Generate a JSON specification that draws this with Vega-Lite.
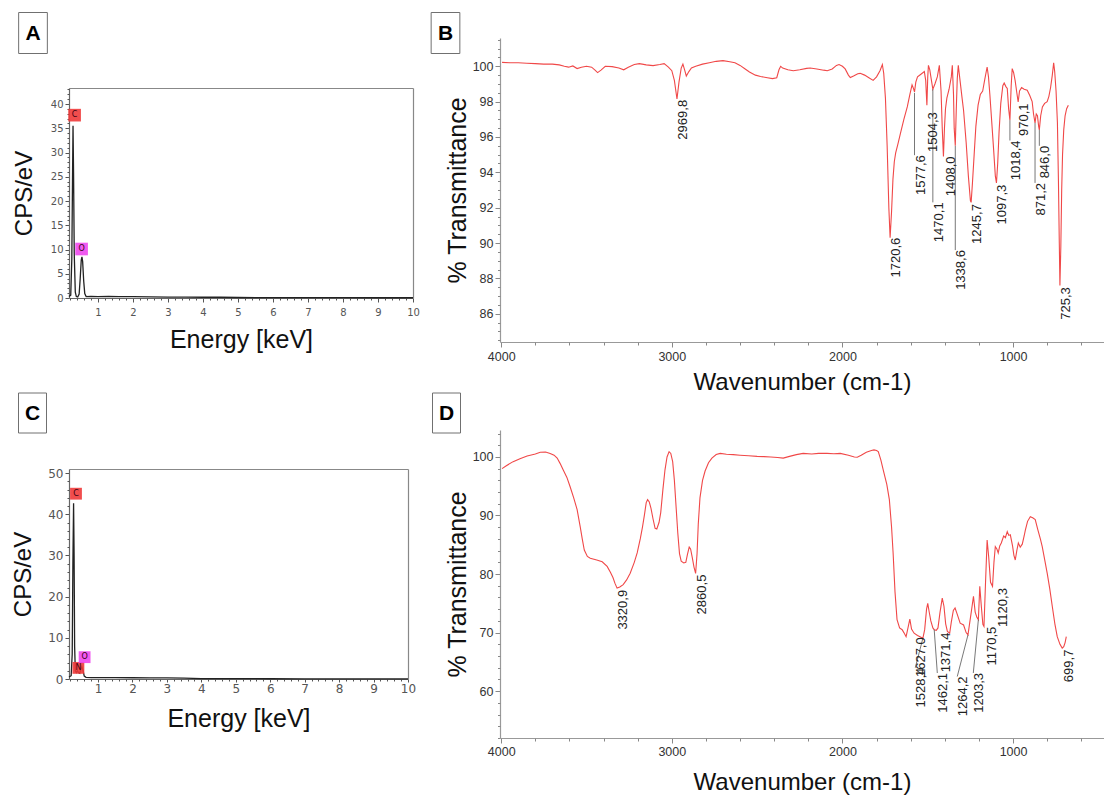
{
  "$schema": "https://vega.github.io/schema/vega-lite/v6.json",
  "padding": 0,
  "background": "white",
  "columns": 4,
  "spacing": 0,
  "bounds": "flush",
  "align": "each",
  "datasets": {
    "eds_a": [
      {"kev":0.17,"cps":0.3},{"kev":0.22,"cps":0.6},{"kev":0.25,"cps":8},{"kev":0.27,"cps":24},{"kev":0.285,"cps":35.5},{"kev":0.3,"cps":26},{"kev":0.32,"cps":9},{"kev":0.35,"cps":1.2},{"kev":0.38,"cps":0.3},{"kev":0.42,"cps":0.2},{"kev":0.46,"cps":0.8},{"kev":0.49,"cps":4},{"kev":0.52,"cps":7.8},{"kev":0.54,"cps":8.5},{"kev":0.56,"cps":7.5},{"kev":0.59,"cps":3.5},{"kev":0.62,"cps":0.9},{"kev":0.66,"cps":0.3},{"kev":0.8,"cps":0.35},{"kev":1.0,"cps":0.3},{"kev":1.3,"cps":0.35},{"kev":1.6,"cps":0.3},{"kev":2.0,"cps":0.3},{"kev":2.5,"cps":0.25},{"kev":3.0,"cps":0.2},{"kev":3.5,"cps":0.2},{"kev":4.0,"cps":0.15},{"kev":4.5,"cps":0.15},{"kev":5.0,"cps":0.1},{"kev":6.0,"cps":0.08},{"kev":7.0,"cps":0.07},{"kev":8.0,"cps":0.06},{"kev":9.0,"cps":0.05},{"kev":10.0,"cps":0.05}
    ],
    "eds_c": [
      {"kev":0.157,"cps":0.5},{"kev":0.22,"cps":0.8},{"kev":0.25,"cps":6},{"kev":0.27,"cps":28},{"kev":0.29,"cps":42.7},{"kev":0.305,"cps":30},{"kev":0.32,"cps":8},{"kev":0.34,"cps":2},{"kev":0.37,"cps":1.6},{"kev":0.4,"cps":2},{"kev":0.43,"cps":1.6},{"kev":0.47,"cps":1.4},{"kev":0.5,"cps":2.4},{"kev":0.53,"cps":3},{"kev":0.56,"cps":2.2},{"kev":0.6,"cps":0.7},{"kev":0.65,"cps":0.4},{"kev":0.8,"cps":0.35},{"kev":1.0,"cps":0.35},{"kev":1.5,"cps":0.35},{"kev":2.0,"cps":0.3},{"kev":2.5,"cps":0.25},{"kev":3.0,"cps":0.25},{"kev":3.5,"cps":0.2},{"kev":4.0,"cps":0.1},{"kev":5.0,"cps":0.08},{"kev":6.0,"cps":0.06},{"kev":7.0,"cps":0.05},{"kev":8.0,"cps":0.05},{"kev":9.0,"cps":0.05},{"kev":10.0,"cps":0.05}
    ],
    "mk_a": [
      {"el":"C","kev":0.33,"cps":37.7},{"el":"O","kev":0.53,"cps":10.1}
    ],
    "mk_c": [
      {"el":"C","kev":0.36,"cps":45.0},{"el":"N","kev":0.43,"cps":2.7},{"el":"O","kev":0.61,"cps":5.3}
    ],
    "ir_b": [
      {"wn":3995,"t":100.22},{"wn":3950,"t":100.2},{"wn":3900,"t":100.2},{"wn":3850,"t":100.17},{"wn":3800,"t":100.15},{"wn":3750,"t":100.12},{"wn":3700,"t":100.12},{"wn":3660,"t":100.08},{"wn":3630,"t":100.0},{"wn":3605,"t":99.95},{"wn":3580,"t":100.02},{"wn":3555,"t":99.87},{"wn":3530,"t":99.95},{"wn":3500,"t":100.0},{"wn":3470,"t":99.95},{"wn":3450,"t":99.78},{"wn":3435,"t":99.64},{"wn":3415,"t":99.78},{"wn":3390,"t":100.0},{"wn":3350,"t":99.98},{"wn":3310,"t":99.9},{"wn":3282,"t":99.8},{"wn":3255,"t":99.95},{"wn":3220,"t":100.1},{"wn":3190,"t":100.15},{"wn":3150,"t":100.08},{"wn":3110,"t":100.04},{"wn":3070,"t":100.1},{"wn":3045,"t":100.15},{"wn":3020,"t":99.95},{"wn":3000,"t":99.75},{"wn":2985,"t":99.2},{"wn":2969.8,"t":98.15},{"wn":2958,"t":99.1},{"wn":2945,"t":99.9},{"wn":2935,"t":100.12},{"wn":2925,"t":99.8},{"wn":2915,"t":99.45},{"wn":2900,"t":99.7},{"wn":2885,"t":99.9},{"wn":2860,"t":100.0},{"wn":2820,"t":100.12},{"wn":2780,"t":100.2},{"wn":2740,"t":100.28},{"wn":2700,"t":100.32},{"wn":2660,"t":100.26},{"wn":2630,"t":100.2},{"wn":2600,"t":100.05},{"wn":2570,"t":99.85},{"wn":2545,"t":99.68},{"wn":2510,"t":99.5},{"wn":2480,"t":99.42},{"wn":2440,"t":99.35},{"wn":2410,"t":99.3},{"wn":2385,"t":99.35},{"wn":2372,"t":99.8},{"wn":2362,"t":100.0},{"wn":2350,"t":99.9},{"wn":2320,"t":99.8},{"wn":2288,"t":99.75},{"wn":2250,"t":99.8},{"wn":2210,"t":99.88},{"wn":2189,"t":99.9},{"wn":2150,"t":99.85},{"wn":2110,"t":99.78},{"wn":2089,"t":99.75},{"wn":2060,"t":99.85},{"wn":2035,"t":100.05},{"wn":2020,"t":100.1},{"wn":2000,"t":100.0},{"wn":1984,"t":99.85},{"wn":1965,"t":99.5},{"wn":1954,"t":99.36},{"wn":1935,"t":99.45},{"wn":1910,"t":99.58},{"wn":1896,"t":99.6},{"wn":1870,"t":99.5},{"wn":1845,"t":99.35},{"wn":1820,"t":99.2},{"wn":1800,"t":99.4},{"wn":1780,"t":99.75},{"wn":1766,"t":100.1},{"wn":1758,"t":99.6},{"wn":1748,"t":98.2},{"wn":1738,"t":95.5},{"wn":1728,"t":92.0},{"wn":1720.6,"t":90.3},{"wn":1712,"t":91.8},{"wn":1704,"t":93.6},{"wn":1696,"t":94.6},{"wn":1688,"t":95.1},{"wn":1675,"t":95.6},{"wn":1660,"t":96.2},{"wn":1640,"t":97.0},{"wn":1620,"t":97.7},{"wn":1605,"t":98.4},{"wn":1592,"t":98.95},{"wn":1584,"t":98.75},{"wn":1577.6,"t":98.55},{"wn":1570,"t":99.1},{"wn":1560,"t":99.4},{"wn":1540,"t":99.55},{"wn":1520,"t":99.7},{"wn":1512,"t":99.2},{"wn":1505,"t":97.8},{"wn":1500,"t":99.4},{"wn":1496,"t":100.05},{"wn":1488,"t":99.8},{"wn":1480,"t":99.3},{"wn":1470.1,"t":98.7},{"wn":1458,"t":99.0},{"wn":1444,"t":99.4},{"wn":1432,"t":100.05},{"wn":1422,"t":98.6},{"wn":1415,"t":96.5},{"wn":1408,"t":94.9},{"wn":1402,"t":96.5},{"wn":1396,"t":97.6},{"wn":1388,"t":98.2},{"wn":1375,"t":98.7},{"wn":1362,"t":99.4},{"wn":1356,"t":100.05},{"wn":1349,"t":98.4},{"wn":1345,"t":96.5},{"wn":1338.6,"t":95.5},{"wn":1333,"t":97.5},{"wn":1327,"t":99.3},{"wn":1321,"t":100.05},{"wn":1312,"t":99.3},{"wn":1300,"t":98.3},{"wn":1290,"t":97.5},{"wn":1275,"t":95.7},{"wn":1262,"t":93.8},{"wn":1250,"t":92.4},{"wn":1245.7,"t":92.3},{"wn":1238,"t":93.4},{"wn":1228,"t":95.0},{"wn":1218,"t":96.6},{"wn":1205,"t":97.8},{"wn":1192,"t":98.4},{"wn":1178,"t":98.6},{"wn":1165,"t":99.3},{"wn":1152,"t":99.96},{"wn":1144,"t":99.4},{"wn":1136,"t":98.4},{"wn":1126,"t":97.0},{"wn":1114,"t":95.3},{"wn":1104,"t":93.8},{"wn":1097.3,"t":93.4},{"wn":1090,"t":94.5},{"wn":1082,"t":96.3},{"wn":1072,"t":97.9},{"wn":1060,"t":98.9},{"wn":1052,"t":99.05},{"wn":1042,"t":98.85},{"wn":1034,"t":98.75},{"wn":1026,"t":97.6},{"wn":1018.4,"t":96.95},{"wn":1011,"t":98.9},{"wn":1005,"t":99.87},{"wn":997,"t":99.65},{"wn":988,"t":99.2},{"wn":978,"t":98.5},{"wn":970.1,"t":97.98},{"wn":962,"t":98.6},{"wn":950,"t":98.8},{"wn":935,"t":98.7},{"wn":917,"t":98.64},{"wn":902,"t":98.35},{"wn":888,"t":98.0},{"wn":880,"t":97.3},{"wn":871.2,"t":96.8},{"wn":864,"t":97.3},{"wn":857,"t":97.2},{"wn":850,"t":96.6},{"wn":846,"t":96.4},{"wn":838,"t":97.2},{"wn":828,"t":97.7},{"wn":815,"t":97.9},{"wn":800,"t":98.0},{"wn":790,"t":98.3},{"wn":780,"t":98.8},{"wn":770,"t":99.5},{"wn":762,"t":100.2},{"wn":756,"t":99.7},{"wn":748,"t":98.6},{"wn":740,"t":96.8},{"wn":734,"t":93.5},{"wn":729,"t":90.0},{"wn":725.3,"t":87.6},{"wn":720,"t":89.8},{"wn":715,"t":93.0},{"wn":710,"t":95.0},{"wn":703,"t":96.4},{"wn":695,"t":97.2},{"wn":686,"t":97.6},{"wn":676,"t":97.8}
    ],
    "ir_d": [
      {"wn":3995,"t":98.0},{"wn":3970,"t":98.5},{"wn":3930,"t":99.2},{"wn":3890,"t":99.7},{"wn":3848,"t":100.17},{"wn":3800,"t":100.5},{"wn":3771,"t":100.8},{"wn":3740,"t":100.85},{"wn":3713,"t":100.6},{"wn":3690,"t":100.3},{"wn":3672,"t":99.8},{"wn":3655,"t":98.9},{"wn":3637,"t":97.8},{"wn":3615,"t":96.5},{"wn":3596,"t":94.9},{"wn":3575,"t":93.0},{"wn":3555,"t":91.0},{"wn":3537,"t":88.1},{"wn":3525,"t":86.0},{"wn":3513,"t":84.1},{"wn":3495,"t":83.0},{"wn":3478,"t":82.7},{"wn":3440,"t":82.4},{"wn":3408,"t":82.1},{"wn":3379,"t":81.3},{"wn":3360,"t":80.3},{"wn":3345,"t":79.4},{"wn":3333,"t":78.4},{"wn":3320.9,"t":77.6},{"wn":3305,"t":77.8},{"wn":3285,"t":78.2},{"wn":3265,"t":79.0},{"wn":3244,"t":80.15},{"wn":3220,"t":82.0},{"wn":3203,"t":83.6},{"wn":3185,"t":86.0},{"wn":3172,"t":88.0},{"wn":3160,"t":90.2},{"wn":3150,"t":92.2},{"wn":3142,"t":92.7},{"wn":3132,"t":92.3},{"wn":3122,"t":91.2},{"wn":3110,"t":89.4},{"wn":3098,"t":87.8},{"wn":3088,"t":87.7},{"wn":3075,"t":88.8},{"wn":3065,"t":90.5},{"wn":3052,"t":94.5},{"wn":3040,"t":97.8},{"wn":3028,"t":100.0},{"wn":3016,"t":100.9},{"wn":3006,"t":100.6},{"wn":2995,"t":99.2},{"wn":2985,"t":96.0},{"wn":2975,"t":91.5},{"wn":2965,"t":87.0},{"wn":2955,"t":83.5},{"wn":2945,"t":82.2},{"wn":2930,"t":81.9},{"wn":2918,"t":82.0},{"wn":2908,"t":83.4},{"wn":2898,"t":84.6},{"wn":2890,"t":84.3},{"wn":2880,"t":82.8},{"wn":2870,"t":81.2},{"wn":2860.5,"t":80.1},{"wn":2852,"t":83.5},{"wn":2845,"t":88.5},{"wn":2835,"t":93.0},{"wn":2820,"t":96.0},{"wn":2805,"t":97.6},{"wn":2785,"t":99.0},{"wn":2765,"t":99.8},{"wn":2740,"t":100.4},{"wn":2716,"t":100.6},{"wn":2680,"t":100.45},{"wn":2640,"t":100.4},{"wn":2600,"t":100.3},{"wn":2550,"t":100.2},{"wn":2500,"t":100.1},{"wn":2460,"t":100.05},{"wn":2420,"t":100.0},{"wn":2380,"t":99.9},{"wn":2347,"t":99.8},{"wn":2310,"t":100.1},{"wn":2270,"t":100.4},{"wn":2230,"t":100.6},{"wn":2180,"t":100.5},{"wn":2140,"t":100.6},{"wn":2090,"t":100.6},{"wn":2050,"t":100.55},{"wn":2013,"t":100.6},{"wn":1965,"t":100.3},{"wn":1930,"t":100.0},{"wn":1913,"t":99.95},{"wn":1890,"t":100.3},{"wn":1860,"t":100.8},{"wn":1830,"t":101.1},{"wn":1815,"t":101.2},{"wn":1800,"t":101.1},{"wn":1790,"t":100.9},{"wn":1775,"t":99.5},{"wn":1761,"t":97.8},{"wn":1740,"t":95.3},{"wn":1725,"t":92.7},{"wn":1712,"t":88.0},{"wn":1703,"t":83.6},{"wn":1692,"t":77.0},{"wn":1680,"t":72.2},{"wn":1665,"t":70.8},{"wn":1650,"t":70.5},{"wn":1640,"t":70.0},{"wn":1627,"t":69.3},{"wn":1618,"t":70.5},{"wn":1605,"t":72.3},{"wn":1595,"t":70.6},{"wn":1580,"t":69.9},{"wn":1560,"t":69.5},{"wn":1545,"t":69.3},{"wn":1528.4,"t":69.05},{"wn":1518,"t":70.5},{"wn":1507,"t":74.0},{"wn":1500,"t":75.0},{"wn":1492,"t":73.6},{"wn":1482,"t":72.0},{"wn":1470,"t":70.8},{"wn":1462.1,"t":70.5},{"wn":1450,"t":70.4},{"wn":1440,"t":70.8},{"wn":1428,"t":73.5},{"wn":1415,"t":75.9},{"wn":1405,"t":74.5},{"wn":1395,"t":71.5},{"wn":1385,"t":70.2},{"wn":1371.4,"t":69.9},{"wn":1362,"t":71.8},{"wn":1350,"t":73.8},{"wn":1340,"t":74.2},{"wn":1328,"t":73.2},{"wn":1310,"t":71.6},{"wn":1290,"t":71.3},{"wn":1275,"t":70.0},{"wn":1264.2,"t":69.6},{"wn":1255,"t":71.5},{"wn":1245,"t":73.5},{"wn":1232,"t":76.2},{"wn":1222,"t":73.5},{"wn":1212,"t":72.6},{"wn":1203.3,"t":72.2},{"wn":1195,"t":77.9},{"wn":1186,"t":74.5},{"wn":1177,"t":71.4},{"wn":1170.5,"t":71.05},{"wn":1162,"t":78.0},{"wn":1152,"t":85.8},{"wn":1143,"t":83.0},{"wn":1132,"t":78.6},{"wn":1120.3,"t":77.9},{"wn":1112,"t":82.0},{"wn":1104,"t":84.7},{"wn":1095,"t":84.3},{"wn":1087,"t":83.6},{"wn":1078,"t":84.8},{"wn":1069,"t":85.3},{"wn":1055,"t":86.5},{"wn":1045,"t":86.2},{"wn":1034,"t":87.25},{"wn":1025,"t":86.6},{"wn":1016,"t":86.7},{"wn":1003,"t":84.8},{"wn":995,"t":83.2},{"wn":987,"t":82.4},{"wn":978,"t":84.0},{"wn":969,"t":85.3},{"wn":958,"t":84.6},{"wn":946,"t":85.1},{"wn":935,"t":86.5},{"wn":928,"t":87.5},{"wn":915,"t":89.0},{"wn":899,"t":89.8},{"wn":885,"t":89.6},{"wn":870,"t":89.3},{"wn":855,"t":87.6},{"wn":840,"t":86.0},{"wn":829,"t":84.7},{"wn":815,"t":82.5},{"wn":800,"t":80.15},{"wn":785,"t":77.5},{"wn":770,"t":74.45},{"wn":755,"t":71.5},{"wn":741,"t":69.3},{"wn":725,"t":68.0},{"wn":712,"t":67.35},{"wn":703,"t":67.6},{"wn":695,"t":68.3},{"wn":688,"t":69.3}
    ],
    "ann_b": [
      {"label":"2969,8","wn":2969.8,"ty":null,"lx":2969.8,"ly":98.1},
      {"label":"1720,6","wn":1720.6,"ty":null,"lx":1720.6,"ly":90.3},
      {"label":"1577,6","wn":1577.6,"ty":98.5,"lx":1577.6,"ly":94.97},
      {"label":"1504,3","wn":1504.3,"ty":null,"lx":1504.3,"ly":97.4},
      {"label":"1470,1","wn":1470.1,"ty":98.7,"lx":1470.1,"ly":92.3},
      {"label":"1408,0","wn":1408.0,"ty":null,"lx":1400,"ly":94.9},
      {"label":"1338,6","wn":1338.6,"ty":95.5,"lx":1338.6,"ly":89.6},
      {"label":"1245,7","wn":1245.7,"ty":null,"lx":1245.7,"ly":92.2},
      {"label":"1097,3","wn":1097.3,"ty":null,"lx":1097.3,"ly":93.3},
      {"label":"1018,4","wn":1018.4,"ty":96.95,"lx":1018.4,"ly":95.8},
      {"label":"970,1","wn":970.1,"ty":null,"lx":970.1,"ly":97.9},
      {"label":"871,2","wn":871.2,"ty":96.8,"lx":871.2,"ly":93.4},
      {"label":"846,0","wn":846.0,"ty":96.4,"lx":846.0,"ly":95.5},
      {"label":"725,3","wn":725.3,"ty":null,"lx":725.3,"ly":87.5}
    ],
    "ann_d": [
      {"label":"3320,9","wn":3320.9,"ty":null,"lx":3320.9,"ly":77.3},
      {"label":"2860,5","wn":2860.5,"ty":null,"lx":2860.5,"ly":79.9},
      {"label":"1627,0","wn":1627.0,"ty":null,"lx":1575,"ly":69.2},
      {"label":"1528,4","wn":1528.4,"ty":69.05,"lx":1573,"ly":64.0},
      {"label":"1462,1","wn":1462.1,"ty":70.5,"lx":1444,"ly":63.1},
      {"label":"1371,4","wn":1371.4,"ty":null,"lx":1427,"ly":70.0},
      {"label":"1264,2","wn":1264.2,"ty":69.6,"lx":1327,"ly":62.5},
      {"label":"1203,3","wn":1203.3,"ty":72.2,"lx":1233,"ly":63.1},
      {"label":"1170,5","wn":1170.5,"ty":null,"lx":1160,"ly":71.0},
      {"label":"1120,3","wn":1120.3,"ty":null,"lx":1095,"ly":77.6},
      {"label":"699,7","wn":699.7,"ty":null,"lx":705,"ly":67.1}
    ]
  },
  "concat": [
    {
      "width": 69, "height": 66,
      "data": {"values": [{"panel": "A"}]},
      "layer": [
        {"mark": {"type": "point", "shape": "M-0.7,-1L0.7,-1L0.7,1L-0.7,1Z", "size": 1681, "filled": false, "color": "#707070", "strokeWidth": 1, "opacity": 1, "xOffset": -1.5}, "encoding": {}},
        {"mark": {"type": "text", "font": "Liberation Sans", "fontSize": 21, "fontWeight": "bold", "color": "#000", "xOffset": -1.5, "yOffset": 1}, "encoding": {"text": {"field": "panel"}}}
      ]
    },
    {
      "width": 344, "height": 298,
      "resolve": {"axis": {"x": "independent", "y": "independent"}},
      "layer": [
        {
          "data": {"name": "eds_a"},
          "mark": {"type": "line", "color": "#222", "strokeWidth": 1.3},
          "encoding": {
            "x": {"field": "kev", "type": "quantitative", "scale": {"domain": [0.17, 10], "nice": false, "zero": false},
              "axis": {"title": "Energy [keV]", "titleFontSize": 25, "titleColor": "#111", "titlePadding": 10,
                "values": [1,2,3,4,5,6,7,8,9,10], "format": "d",
                "labelFont": "DejaVu Sans", "labelFontSize": 10, "labelColor": "#555", "labelPadding": 5,
                "tickColor": "#555", "tickWidth": 1, "tickSize": 4,
                "domainColor": "#666", "domainWidth": 1.2}},
            "y": {"field": "cps", "type": "quantitative", "scale": {"domain": [0, 43.3], "range": [298, 88], "nice": false, "zero": false},
              "axis": {"title": "CPS/eV", "titleFontSize": 24, "titleColor": "#111", "titlePadding": 14,
                "values": [0,5,10,15,20,25,30,35,40], "format": "d",
                "labelFont": "DejaVu Sans", "labelFontSize": 10, "labelColor": "#555", "labelPadding": 2,
                "tickColor": "#555", "tickWidth": 1, "tickSize": 4,
                "domainColor": "#666", "domainWidth": 1.2}}
          }
        },
        {
          "data": {"name": "eds_a"},
          "mark": {"type": "line", "strokeOpacity": 0},
          "encoding": {
            "x": {"field": "kev", "type": "quantitative", "scale": {"domain": [0.17, 10], "nice": false, "zero": false},
              "axis": {"orient": "top", "offset": -88, "ticks": false, "labels": false, "title": null, "domainColor": "#888", "domainWidth": 1.2}},
            "y": {"field": "cps", "type": "quantitative", "scale": {"domain": [0, 43.3], "range": [298, 88], "nice": false, "zero": false},
              "axis": {"orient": "right", "ticks": false, "labels": false, "title": null, "domainColor": "#888", "domainWidth": 1.2}}
          }
        },
        {
          "data": {"name": "eds_a"},
          "mark": {"type": "line", "strokeOpacity": 0},
          "encoding": {
            "x": {"field": "kev", "type": "quantitative", "scale": {"domain": [0.17, 10], "nice": false, "zero": false},
              "axis": {"orient": "bottom", "domain": false, "labels": false, "title": null, "tickSize": 2, "tickColor": "#555", "tickWidth": 1,
                "values": [0.2,0.4,0.6,0.8,1.2,1.4,1.6,1.8,2.2,2.4,2.6,2.8,3.2,3.4,3.6,3.8,4.2,4.4,4.6,4.8,5.2,5.4,5.6,5.8,6.2,6.4,6.6,6.8,7.2,7.4,7.6,7.8,8.2,8.4,8.6,8.8,9.2,9.4,9.6,9.8]}},
            "y": {"field": "cps", "type": "quantitative", "scale": {"domain": [0, 43.3], "range": [298, 88], "nice": false, "zero": false},
              "axis": {"orient": "left", "domain": false, "labels": false, "title": null, "tickSize": 2, "tickColor": "#555", "tickWidth": 1,
                "values": [1,2,3,4,6,7,8,9,11,12,13,14,16,17,18,19,21,22,23,24,26,27,28,29,31,32,33,34,36,37,38,39,41,42,43]}}
          }
        },
        {
          "data": {"name": "mk_a"},
          "mark": {"type": "point", "shape": "square", "size": 160, "filled": true, "opacity": 0.9},
          "encoding": {
            "x": {"field": "kev", "type": "quantitative", "scale": {"domain": [0.17, 10], "nice": false, "zero": false}, "axis": null},
            "y": {"field": "cps", "type": "quantitative", "scale": {"domain": [0, 43.3], "range": [298, 88], "nice": false, "zero": false}, "axis": null},
            "color": {"field": "el", "type": "nominal", "scale": {"domain": ["C", "N", "O"], "range": ["#f03a3a", "#f03a3a", "#ee48ee"]}, "legend": null}
          }
        },
        {
          "data": {"name": "mk_a"},
          "mark": {"type": "text", "fontSize": 8, "font": "DejaVu Sans", "color": "#3a0010"},
          "encoding": {
            "x": {"field": "kev", "type": "quantitative", "scale": {"domain": [0.17, 10], "nice": false, "zero": false}, "axis": null},
            "y": {"field": "cps", "type": "quantitative", "scale": {"domain": [0, 43.3], "range": [298, 88], "nice": false, "zero": false}, "axis": null},
            "text": {"field": "el"}
          }
        }
      ]
    },
    {
      "width": 87, "height": 66,
      "data": {"values": [{"panel": "B"}]},
      "layer": [
        {"mark": {"type": "point", "shape": "M-0.7,-1L0.7,-1L0.7,1L-0.7,1Z", "size": 1681, "filled": false, "color": "#707070", "strokeWidth": 1, "opacity": 1, "xOffset": -11}, "encoding": {}},
        {"mark": {"type": "text", "font": "Liberation Sans", "fontSize": 21, "fontWeight": "bold", "color": "#000", "xOffset": -11, "yOffset": 1}, "encoding": {"text": {"field": "panel"}}}
      ]
    },
    {
      "width": 604, "height": 342,
      "resolve": {"axis": {"x": "independent", "y": "independent"}},
      "layer": [
        {
          "data": {"name": "ir_b"},
          "mark": {"type": "line", "color": "#f04848", "strokeWidth": 1.1},
          "encoding": {
            "x": {"field": "wn", "type": "quantitative", "scale": {"domain": [4007, 467], "nice": false, "zero": false},
              "axis": {"title": "Wavenumber (cm-1)", "titleFontSize": 24, "titleColor": "#111", "titlePadding": 8,
                "values": [4000,3000,2000,1000], "format": "d",
                "labelFontSize": 12.5, "labelColor": "#333", "labelPadding": 3,
                "tickColor": "#888", "tickWidth": 1, "tickSize": 5,
                "domainColor": "#999", "domainWidth": 1.2}},
            "y": {"field": "t", "type": "quantitative", "scale": {"domain": [84.4, 101.6], "range": [342, 38], "nice": false, "zero": false},
              "axis": {"title": "% Transmittance", "titleFontSize": 25, "titleColor": "#111", "titlePadding": 2,
                "values": [86,88,90,92,94,96,98,100], "format": "d",
                "labelFontSize": 12.5, "labelColor": "#333", "labelPadding": 2,
                "tickColor": "#888", "tickWidth": 1, "tickSize": 5,
                "domainColor": "#999", "domainWidth": 1.2}}
          }
        },
        {
          "data": {"name": "ir_b"},
          "mark": {"type": "line", "strokeOpacity": 0},
          "encoding": {
            "x": {"field": "wn", "type": "quantitative", "scale": {"domain": [4007, 467], "nice": false, "zero": false},
              "axis": {"orient": "bottom", "domain": false, "labels": false, "title": null, "tickSize": 3, "tickColor": "#888", "tickWidth": 1,
                "values": [3800,3600,3400,3200,2800,2600,2400,2200,1800,1600,1400,1200,800,600]}},
            "y": {"field": "t", "type": "quantitative", "scale": {"domain": [84.4, 101.6], "range": [342, 38], "nice": false, "zero": false},
              "axis": {"orient": "left", "domain": false, "labels": false, "title": null, "tickSize": 2.5, "tickColor": "#888", "tickWidth": 1,
                "values": [84.5,85,85.5,86.5,87,87.5,88.5,89,89.5,90.5,91,91.5,92.5,93,93.5,94.5,95,95.5,96.5,97,97.5,98.5,99,99.5,100.5,101,101.5]}}
          }
        },
        {
          "data": {"name": "ann_b"},
          "mark": {"type": "rule", "color": "#555", "strokeWidth": 0.8},
          "encoding": {
            "x": {"field": "wn", "type": "quantitative", "scale": {"domain": [4007, 467], "nice": false, "zero": false}, "axis": null},
            "x2": {"field": "lx"},
            "y": {"field": "ty", "type": "quantitative", "scale": {"domain": [84.4, 101.6], "range": [342, 38], "nice": false, "zero": false}, "axis": null},
            "y2": {"field": "ly"}
          }
        },
        {
          "data": {"name": "ann_b"},
          "mark": {"type": "text", "angle": 270, "align": "right", "baseline": "top", "fontSize": 13, "font": "Liberation Sans", "color": "#222"},
          "encoding": {
            "x": {"field": "lx", "type": "quantitative", "scale": {"domain": [4007, 467], "nice": false, "zero": false}, "axis": null},
            "y": {"field": "ly", "type": "quantitative", "scale": {"domain": [84.4, 101.6], "range": [342, 38], "nice": false, "zero": false}, "axis": null},
            "text": {"field": "label"}
          }
        }
      ]
    },
    {
      "width": 69, "height": 142,
      "data": {"values": [{"panel": "C"}]},
      "layer": [
        {"mark": {"type": "point", "shape": "M-0.7,-1L0.7,-1L0.7,1L-0.7,1Z", "size": 1600, "filled": false, "color": "#707070", "strokeWidth": 1, "opacity": 1, "xOffset": -2}, "encoding": {}},
        {"mark": {"type": "text", "font": "Liberation Sans", "fontSize": 21, "fontWeight": "bold", "color": "#000", "xOffset": -2, "yOffset": 1}, "encoding": {"text": {"field": "panel"}}}
      ]
    },
    {
      "width": 339, "height": 337,
      "resolve": {"axis": {"x": "independent", "y": "independent"}},
      "layer": [
        {
          "data": {"name": "eds_c"},
          "mark": {"type": "line", "color": "#222", "strokeWidth": 1.3},
          "encoding": {
            "x": {"field": "kev", "type": "quantitative", "scale": {"domain": [0.157, 10], "nice": false, "zero": false},
              "axis": {"title": "Energy [keV]", "titleFontSize": 25, "titleColor": "#111", "titlePadding": 12,
                "values": [1,2,3,4,5,6,7,8,9,10], "format": "d",
                "labelFont": "DejaVu Sans", "labelFontSize": 12, "labelColor": "#555", "labelPadding": 1,
                "tickColor": "#555", "tickWidth": 1, "tickSize": 3,
                "domainColor": "#666", "domainWidth": 1.2}},
            "y": {"field": "cps", "type": "quantitative", "scale": {"domain": [0, 51], "range": [337, 127], "nice": false, "zero": false},
              "axis": {"title": "CPS/eV", "titleFontSize": 24, "titleColor": "#111", "titlePadding": 12,
                "values": [0,10,20,30,40,50], "format": "d",
                "labelFont": "DejaVu Sans", "labelFontSize": 12, "labelColor": "#555", "labelPadding": 2,
                "tickColor": "#555", "tickWidth": 1, "tickSize": 4,
                "domainColor": "#666", "domainWidth": 1.2}}
          }
        },
        {
          "data": {"name": "eds_c"},
          "mark": {"type": "line", "strokeOpacity": 0},
          "encoding": {
            "x": {"field": "kev", "type": "quantitative", "scale": {"domain": [0.157, 10], "nice": false, "zero": false},
              "axis": {"orient": "top", "offset": -127, "ticks": false, "labels": false, "title": null, "domainColor": "#888", "domainWidth": 1.2}},
            "y": {"field": "cps", "type": "quantitative", "scale": {"domain": [0, 51], "range": [337, 127], "nice": false, "zero": false},
              "axis": {"orient": "right", "ticks": false, "labels": false, "title": null, "domainColor": "#888", "domainWidth": 1.2}}
          }
        },
        {
          "data": {"name": "eds_c"},
          "mark": {"type": "line", "strokeOpacity": 0},
          "encoding": {
            "x": {"field": "kev", "type": "quantitative", "scale": {"domain": [0.157, 10], "nice": false, "zero": false},
              "axis": {"orient": "bottom", "domain": false, "labels": false, "title": null, "tickSize": 2, "tickColor": "#555", "tickWidth": 1,
                "values": [0.2,0.4,0.6,0.8,1.2,1.4,1.6,1.8,2.2,2.4,2.6,2.8,3.2,3.4,3.6,3.8,4.2,4.4,4.6,4.8,5.2,5.4,5.6,5.8,6.2,6.4,6.6,6.8,7.2,7.4,7.6,7.8,8.2,8.4,8.6,8.8,9.2,9.4,9.6,9.8]}},
            "y": {"field": "cps", "type": "quantitative", "scale": {"domain": [0, 51], "range": [337, 127], "nice": false, "zero": false},
              "axis": {"orient": "left", "domain": false, "labels": false, "title": null, "tickSize": 2, "tickColor": "#555", "tickWidth": 1,
                "values": [2,4,6,8,12,14,16,18,22,24,26,28,32,34,36,38,42,44,46,48]}}
          }
        },
        {
          "data": {"name": "mk_c"},
          "mark": {"type": "point", "shape": "square", "size": 140, "filled": true, "opacity": 0.9},
          "encoding": {
            "x": {"field": "kev", "type": "quantitative", "scale": {"domain": [0.157, 10], "nice": false, "zero": false}, "axis": null},
            "y": {"field": "cps", "type": "quantitative", "scale": {"domain": [0, 51], "range": [337, 127], "nice": false, "zero": false}, "axis": null},
            "color": {"field": "el", "type": "nominal", "scale": {"domain": ["C", "N", "O"], "range": ["#f03a3a", "#f03a3a", "#ee48ee"]}, "legend": null}
          }
        },
        {
          "data": {"name": "mk_c"},
          "mark": {"type": "text", "fontSize": 8, "font": "DejaVu Sans", "color": "#3a0010"},
          "encoding": {
            "x": {"field": "kev", "type": "quantitative", "scale": {"domain": [0.157, 10], "nice": false, "zero": false}, "axis": null},
            "y": {"field": "cps", "type": "quantitative", "scale": {"domain": [0, 51], "range": [337, 127], "nice": false, "zero": false}, "axis": null},
            "text": {"field": "el"}
          }
        }
      ]
    },
    {
      "width": 87, "height": 142,
      "data": {"values": [{"panel": "D"}]},
      "layer": [
        {"mark": {"type": "point", "shape": "M-0.7,-1L0.7,-1L0.7,1L-0.7,1Z", "size": 1600, "filled": false, "color": "#707070", "strokeWidth": 1, "opacity": 1, "xOffset": -10}, "encoding": {}},
        {"mark": {"type": "text", "font": "Liberation Sans", "fontSize": 21, "fontWeight": "bold", "color": "#000", "xOffset": -10, "yOffset": 1}, "encoding": {"text": {"field": "panel"}}}
      ]
    },
    {
      "width": 604, "height": 396,
      "resolve": {"axis": {"x": "independent", "y": "independent"}},
      "layer": [
        {
          "data": {"name": "ir_d"},
          "mark": {"type": "line", "color": "#f04848", "strokeWidth": 1.1},
          "encoding": {
            "x": {"field": "wn", "type": "quantitative", "scale": {"domain": [4007, 467], "nice": false, "zero": false},
              "axis": {"title": "Wavenumber (cm-1)", "titleFontSize": 24, "titleColor": "#111", "titlePadding": 13,
                "values": [4000,3000,2000,1000], "format": "d",
                "labelFontSize": 12.5, "labelColor": "#333", "labelPadding": 2,
                "tickColor": "#888", "tickWidth": 1, "tickSize": 5,
                "domainColor": "#999", "domainWidth": 1.2}},
            "y": {"field": "t", "type": "quantitative", "scale": {"domain": [52, 104.6], "range": [396, 88], "nice": false, "zero": false},
              "axis": {"title": "% Transmittance", "titleFontSize": 25, "titleColor": "#111", "titlePadding": 2,
                "values": [60,70,80,90,100], "format": "d",
                "labelFontSize": 12.5, "labelColor": "#333", "labelPadding": 2,
                "tickColor": "#888", "tickWidth": 1, "tickSize": 5,
                "domainColor": "#999", "domainWidth": 1.2}}
          }
        },
        {
          "data": {"name": "ir_d"},
          "mark": {"type": "line", "strokeOpacity": 0},
          "encoding": {
            "x": {"field": "wn", "type": "quantitative", "scale": {"domain": [4007, 467], "nice": false, "zero": false},
              "axis": {"orient": "bottom", "domain": false, "labels": false, "title": null, "tickSize": 3, "tickColor": "#888", "tickWidth": 1,
                "values": [3800,3600,3400,3200,2800,2600,2400,2200,1800,1600,1400,1200,800,600]}},
            "y": {"field": "t", "type": "quantitative", "scale": {"domain": [52, 104.6], "range": [396, 88], "nice": false, "zero": false},
              "axis": {"orient": "left", "domain": false, "labels": false, "title": null, "tickSize": 2.5, "tickColor": "#888", "tickWidth": 1,
                "values": [52,54,56,58,62,64,66,68,72,74,76,78,82,84,86,88,92,94,96,98,102,104]}}
          }
        },
        {
          "data": {"name": "ann_d"},
          "mark": {"type": "rule", "color": "#555", "strokeWidth": 0.8},
          "encoding": {
            "x": {"field": "wn", "type": "quantitative", "scale": {"domain": [4007, 467], "nice": false, "zero": false}, "axis": null},
            "x2": {"field": "lx"},
            "y": {"field": "ty", "type": "quantitative", "scale": {"domain": [52, 104.6], "range": [396, 88], "nice": false, "zero": false}, "axis": null},
            "y2": {"field": "ly"}
          }
        },
        {
          "data": {"name": "ann_d"},
          "mark": {"type": "text", "angle": 270, "align": "right", "baseline": "top", "fontSize": 13, "font": "Liberation Sans", "color": "#222"},
          "encoding": {
            "x": {"field": "lx", "type": "quantitative", "scale": {"domain": [4007, 467], "nice": false, "zero": false}, "axis": null},
            "y": {"field": "ly", "type": "quantitative", "scale": {"domain": [52, 104.6], "range": [396, 88], "nice": false, "zero": false}, "axis": null},
            "text": {"field": "label"}
          }
        }
      ]
    }
  ],
  "config": {
    "view": {"stroke": null},
    "font": "Liberation Sans",
    "axis": {"grid": false, "labelFlush": false, "labelOverlap": false, "labelFont": "Liberation Sans", "titleFont": "Liberation Sans", "titleFontWeight": "normal"}
  }
}
